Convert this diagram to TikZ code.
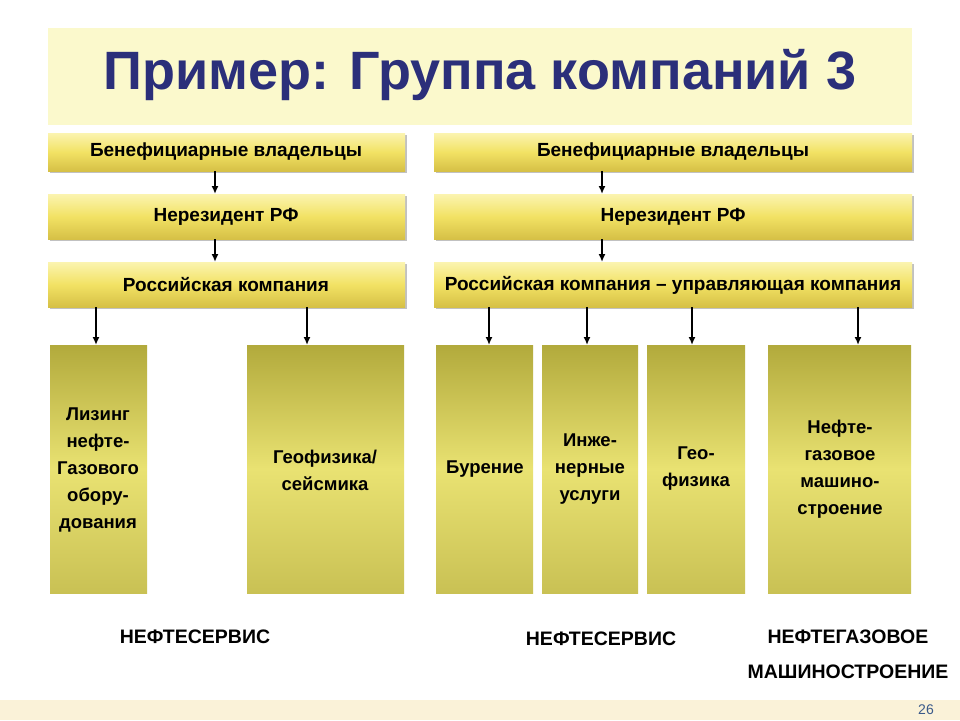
\documentclass[tikz,border=0pt]{standalone}
\usepackage{fontspec}
\setmainfont{Liberation Sans}
\usetikzlibrary{shadows,arrows.meta}
\definecolor{titlebg}{HTML}{FBF9CC}
\definecolor{titlefg}{HTML}{2B2F7A}
\definecolor{bartop}{HTML}{FBF4B0}
\definecolor{barmid}{HTML}{F2E264}
\definecolor{barbot}{HTML}{D6C046}
\definecolor{boxtop}{HTML}{B2AA3C}
\definecolor{boxmid}{HTML}{E9E272}
\definecolor{boxbot}{HTML}{C9C154}
\definecolor{strip}{HTML}{FAF2D8}
\definecolor{numc}{HTML}{3A5A8A}
\begin{document}
\begin{tikzpicture}[x=1pt,y=-1pt,
  bar/.style={draw=none,top color=bartop,bottom color=barbot,middle color=barmid,
    drop shadow={shadow xshift=2pt,shadow yshift=-2pt,fill=black!40,opacity=.6}},
  bartxt/.style={font=\bfseries\fontsize{19}{21}\selectfont},
  sub/.style={draw=none,top color=boxtop,bottom color=boxbot,middle color=boxmid},
  subtxt/.style={align=center,font=\bfseries\fontsize{18.5}{27}\selectfont},
  arr/.style={-{Latex[length=8pt,width=7pt]},line width=1.6pt,black},
  lbl/.style={font=\bfseries\fontsize{19.5}{22}\selectfont}]
\useasboundingbox (0,0) rectangle (960,720);
\fill[white] (0,0) rectangle (960,720);
\fill[strip] (0,700) rectangle (960,720);
\node[font=\fontsize{14}{15}\selectfont,text=numc] (pg) at (926,710) {26};
\fill[titlebg] (48,28) rectangle (912,125);
\node[font=\bfseries\fontsize{54}{58}\selectfont,text=titlefg] (title) at (480,75) {Пример: Группа компаний 3};
% left bars
\path[bar] (48,133) rectangle (405,171);
\node[bartxt] (lb1) at (226,152) {Бенефициарные владельцы};
\path[bar] (48,194) rectangle (405,239);
\node[bartxt] (lb2) at (226,217) {Нерезидент РФ};
\path[bar] (48,262) rectangle (405,307);
\node[bartxt] (lb3) at (226,285) {Российская компания};
% right bars
\path[bar] (434,133) rectangle (912,171);
\node[bartxt] (rb1) at (673,152) {Бенефициарные владельцы};
\path[bar] (434,194) rectangle (912,239);
\node[bartxt] (rb2) at (673,217) {Нерезидент РФ};
\path[bar] (434,262) rectangle (912,307);
\node[bartxt] (rb3) at (673,285) {Российская компания – управляющая компания};
\coordinate (l1b) at (215,171); \coordinate (l2t) at (215,194);
\coordinate (l2b) at (215,239); \coordinate (l3t) at (215,262);
\coordinate (r1b) at (602,171); \coordinate (r2t) at (602,194);
\coordinate (r2b) at (602,239); \coordinate (r3t) at (602,262);
\draw[arr] (l1b) -- (l2t); \draw[arr] (l2b) -- (l3t);
\draw[arr] (r1b) -- (r2t); \draw[arr] (r2b) -- (r3t);
% sub boxes
\path[sub] (50,345) rectangle (147,593);
\path[sub] (247,345) rectangle (404,593);
\path[sub] (436,345) rectangle (533,593);
\path[sub] (542,345) rectangle (638,593);
\path[sub] (647,345) rectangle (745,593);
\path[sub] (768,345) rectangle (911,593);
\node[subtxt] (s1) at (98,470) {Лизинг\\нефте-\\Газового\\обору-\\дования};
\node[subtxt] (s2) at (325,470) {Геофизика/\\сейсмика};
\node[subtxt] (s3) at (485,469) {Бурение};
\node[subtxt] (s4) at (590,469) {Инже-\\нерные\\услуги};
\node[subtxt] (s5) at (696,469) {Гео-\\физика};
\node[subtxt] (s6) at (840,469) {Нефте-\\газовое\\машино-\\строение};
\foreach \x/\n in {96/a,307/b,489/c,587/d,692/e,858/f}{
  \coordinate (t\n) at (\x,307); \coordinate (h\n) at (\x,345);
  \draw[arr] (t\n) -- (h\n);}
\node[lbl] (n1) at (195,637) {НЕФТЕСЕРВИС};
\node[lbl] (n2) at (601,639) {НЕФТЕСЕРВИС};
\node[lbl] (n3) at (848,637) {НЕФТЕГАЗОВОЕ};
\node[lbl] (n4) at (848,672) {МАШИНОСТРОЕНИЕ};
\end{tikzpicture}
\end{document}
